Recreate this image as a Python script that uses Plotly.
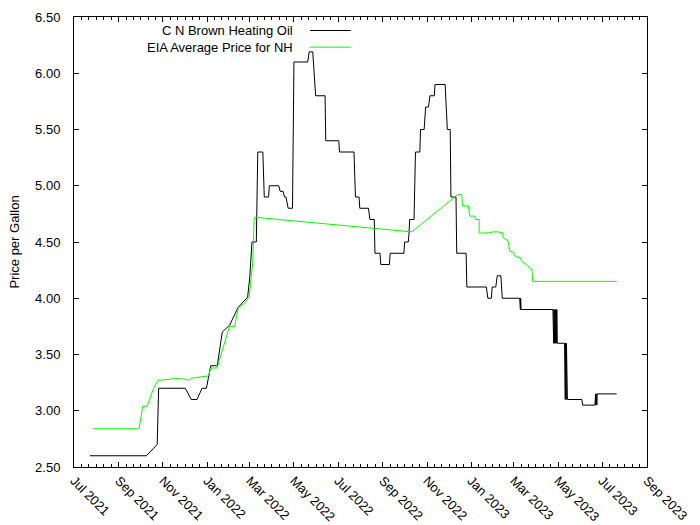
import plotly.graph_objects as go
import pandas as pd

# ---- C N Brown Heating Oil (date, price per gallon) ----
brown_dates = [
    "2021-07-23", "2021-10-09", "2021-10-24", "2021-10-26", "2021-12-02", "2021-12-10",
    "2021-12-18", "2021-12-25", "2021-12-31", "2022-01-06", "2022-01-15", "2022-01-22",
    "2022-02-01", "2022-02-13", "2022-02-26", "2022-03-01", "2022-03-04", "2022-03-10",
    "2022-03-12", "2022-03-19", "2022-03-21", "2022-03-27", "2022-03-28", "2022-04-10",
    "2022-04-12", "2022-04-16", "2022-04-18", "2022-04-20", "2022-04-23", "2022-04-29",
    "2022-05-01", "2022-05-20", "2022-05-22", "2022-05-27", "2022-05-31", "2022-06-13",
    "2022-06-14", "2022-07-02", "2022-07-03", "2022-07-23", "2022-07-25", "2022-07-30",
    "2022-07-31", "2022-08-12", "2022-08-14", "2022-08-20", "2022-08-21", "2022-08-28",
    "2022-08-29", "2022-09-10", "2022-09-11", "2022-09-30", "2022-10-01", "2022-10-06",
    "2022-10-07", "2022-10-08", "2022-10-14", "2022-10-16", "2022-10-22", "2022-10-23",
    "2022-10-28", "2022-10-30", "2022-11-03", "2022-11-05", "2022-11-11", "2022-11-12",
    "2022-11-26", "2022-11-29", "2022-12-03", "2022-12-04", "2022-12-11", "2022-12-12",
    "2022-12-25", "2022-12-26", "2023-01-22", "2023-01-24", "2023-01-29", "2023-01-30",
    "2023-02-04", "2023-02-06", "2023-02-11", "2023-02-13",
    # several quotes per day around price changes in spring 2023
    "2023-03-09 00:00", "2023-03-09 08:00", "2023-03-09 16:00", "2023-03-10 00:00",
    "2023-03-10 08:00", "2023-03-10 16:00", "2023-03-11 00:00",
    "2023-04-24 00:00", "2023-04-24 08:00", "2023-04-24 16:00", "2023-04-25 00:00",
    "2023-04-25 08:00", "2023-04-25 16:00", "2023-04-26 00:00", "2023-04-26 08:00",
    "2023-04-26 16:00", "2023-04-27 00:00", "2023-04-27 08:00", "2023-04-27 16:00",
    "2023-04-28 00:00", "2023-04-28 08:00", "2023-04-28 16:00", "2023-04-29 00:00",
    "2023-04-29 08:00", "2023-04-29 16:00", "2023-04-30 00:00",
    "2023-05-10 00:00", "2023-05-10 08:00", "2023-05-10 16:00", "2023-05-11 00:00",
    "2023-05-11 08:00", "2023-05-11 16:00", "2023-05-12 00:00", "2023-05-12 08:00",
    "2023-05-12 16:00", "2023-05-13 00:00", "2023-05-13 08:00", "2023-05-13 16:00",
    "2023-05-14 00:00",
    "2023-06-03", "2023-06-04",
    "2023-06-21 00:00", "2023-06-21 08:00", "2023-06-21 16:00", "2023-06-22 00:00",
    "2023-06-22 08:00", "2023-06-22 16:00", "2023-06-23 00:00", "2023-06-23 08:00",
    "2023-06-23 16:00", "2023-06-24 00:00",
    "2023-07-21",
]
brown_prices = [
    2.60, 2.60, 2.70, 3.20, 3.20, 3.10,
    3.10, 3.20, 3.20, 3.40, 3.40, 3.70,
    3.76, 3.92, 4.01, 4.19, 4.50, 4.50,
    5.30, 5.30, 4.90, 4.90, 5.00, 5.00,
    4.95, 4.95, 4.90, 4.90, 4.80, 4.80,
    6.10, 6.10, 6.19, 6.19, 5.80, 5.80,
    5.40, 5.40, 5.30, 5.30, 4.90, 4.90,
    4.80, 4.80, 4.70, 4.70, 4.40, 4.40,
    4.30, 4.30, 4.40, 4.40, 4.50, 4.50,
    4.57, 4.70, 4.70, 5.30, 5.30, 5.50,
    5.50, 5.70, 5.70, 5.80, 5.80, 5.90,
    5.90, 5.50, 5.50, 4.90, 4.90, 4.40,
    4.40, 4.10, 4.10, 4.00, 4.00, 4.10,
    4.10, 4.20, 4.20, 4.00,
    4.00, 3.90, 4.00, 3.90,
    4.00, 3.90, 3.90,
    3.90, 3.60, 3.90, 3.60,
    3.90, 3.60, 3.90, 3.60,
    3.90, 3.60, 3.90, 3.60,
    3.90, 3.60, 3.90, 3.60,
    3.90, 3.60, 3.60,
    3.60, 3.10, 3.60, 3.10,
    3.60, 3.10, 3.60, 3.10,
    3.60, 3.10, 3.60, 3.10,
    3.10,
    3.10, 3.05,
    3.05, 3.15, 3.05, 3.15,
    3.05, 3.15, 3.05, 3.15,
    3.05, 3.15,
    3.15,
]

# ---- EIA Average Price for NH ----
eia_dates = [
    "2021-07-27", "2021-09-29", "2021-10-04", "2021-10-10", "2021-10-19", "2021-10-25",
    "2021-11-11", "2021-11-16", "2021-12-02", "2021-12-06", "2021-12-11", "2021-12-23",
    "2022-01-03", "2022-01-06", "2022-01-15", "2022-01-17", "2022-01-24", "2022-01-29",
    "2022-02-01", "2022-02-08", "2022-02-13", "2022-02-16", "2022-02-21", "2022-02-28",
    "2022-03-03", "2022-03-05", "2022-03-07", "2022-03-08", "2022-10-11", "2022-12-13",
    "2022-12-19", "2022-12-20", "2022-12-28", "2022-12-30", "2023-01-06", "2023-01-07",
    "2023-01-12", "2023-01-12", "2023-01-24", "2023-01-31", "2023-02-07", "2023-02-14",
    "2023-02-14", "2023-02-21", "2023-02-23", "2023-02-28", "2023-03-03", "2023-03-10",
    "2023-03-13", "2023-03-19", "2023-03-24", "2023-03-26", "2023-03-27", "2023-07-21",
]
eia_prices = [
    2.84, 2.84, 3.04, 3.04, 3.20, 3.27,
    3.28, 3.29, 3.28, 3.27, 3.29, 3.30,
    3.31, 3.38, 3.38, 3.43, 3.57, 3.69,
    3.75, 3.75, 3.91, 3.93, 3.95, 4.01,
    4.16, 4.31, 4.70, 4.72, 4.59, 4.92,
    4.92, 4.82, 4.82, 4.73, 4.73, 4.70,
    4.70, 4.58, 4.58, 4.59, 4.59, 4.58,
    4.54, 4.51, 4.42, 4.41, 4.37, 4.36,
    4.32, 4.30, 4.26, 4.26, 4.15, 4.15,
]

series_names = ["C N Brown Heating Oil", "EIA Average Price for NH"]
series_colors = ["#000000", "#00ff00"]

x_start, x_end = "2021-07-01", "2023-09-01"
y_min, y_max = 2.5, 6.5

# minor ticks: 5 per two-month interval
majors = pd.date_range(x_start, x_end, freq="2MS")
minor_vals = []
for a, b in zip(majors[:-1], majors[1:]):
    step = (b - a) / 6
    for k in range(1, 6):
        minor_vals.append((a + step * k).strftime("%Y-%m-%d %H:%M"))

FONT = "Liberation Sans, Arial, sans-serif"

fig = go.Figure()
fig.add_trace(go.Scatter(x=brown_dates, y=brown_prices, mode="lines", name=series_names[0],
                         line=dict(color=series_colors[0], width=1), showlegend=False))
fig.add_trace(go.Scatter(x=eia_dates, y=eia_prices, mode="lines", name=series_names[1],
                         line=dict(color=series_colors[1], width=1), showlegend=False))

# gnuplot-style key: text right-aligned, line sample to the right
fig.add_annotation(xref="paper", yref="paper", x=0.385, y=0.951,
                   text="<br>".join(series_names), showarrow=False, align="right",
                   xanchor="right", yanchor="middle",
                   font=dict(family=FONT, size=13, color="#000"))
for i, col in enumerate(series_colors):
    yk = 0.970 - i * 0.037
    fig.add_shape(type="line", xref="paper", yref="paper", x0=0.412, x1=0.483, y0=yk, y1=yk,
                  line=dict(color=col, width=1))

fig.update_layout(
    width=700, height=525,
    margin=dict(l=74, r=53, t=17, b=58),
    plot_bgcolor="white", paper_bgcolor="white",
    font=dict(family=FONT, size=13, color="#000"),
    showlegend=False,
)
fig.update_xaxes(
    type="date", range=[x_start, x_end], autorange=False, automargin=False,
    tickmode="linear", tick0=x_start, dtick="M2", tickformat="%b %Y",
    tickangle=45, ticks="inside", ticklen=5, tickcolor="#000",
    showline=True, linecolor="#000", linewidth=1, mirror="ticks",
    showgrid=False, zeroline=False,
    minor=dict(tickmode="array", tickvals=minor_vals, ticks="inside", ticklen=3,
               tickcolor="#000", showgrid=False),
    tickfont=dict(family=FONT, size=13),
)
fig.update_yaxes(
    range=[y_min, y_max], autorange=False, automargin=False,
    tickmode="linear", tick0=2.5, dtick=0.5, tickformat=".2f",
    ticks="inside", ticklen=5, tickcolor="#000",
    showline=True, linecolor="#000", linewidth=1, mirror="ticks",
    showgrid=False, zeroline=False, ticklabelstandoff=10,
    title=dict(text="Price per Gallon", font=dict(family=FONT, size=13), standoff=12),
    tickfont=dict(family=FONT, size=13),
)

fig.write_html("out.html")
